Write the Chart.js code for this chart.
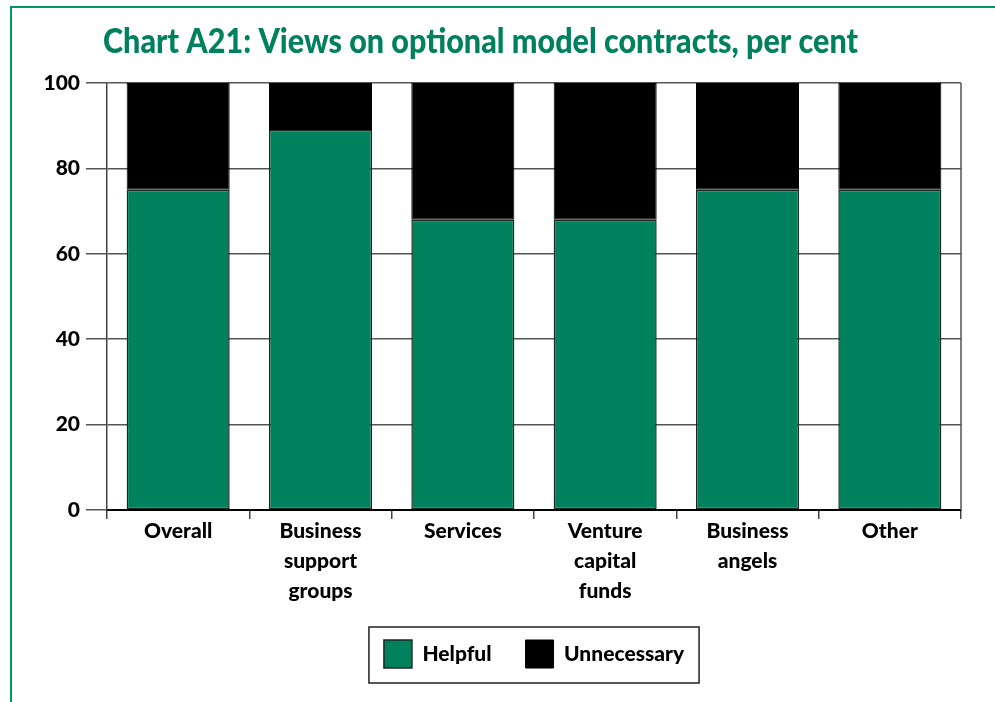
<!DOCTYPE html>
<html>
<head>
<meta charset="utf-8">
<script src="https://cdn.jsdelivr.net/npm/chart.js@4/dist/chart.umd.min.js"></script>
<style>
  html, body { margin: 0; padding: 0; background: #fff; }
  #wrap { width: 995px; height: 702px; }
</style>
</head>
<body>
<div id="wrap"><canvas id="viewsChart" width="995" height="702"></canvas></div>
<script>
const categories = [
  "Overall",
  ["Business", "support", "groups"],
  "Services",
  ["Venture", "capital", "funds"],
  ["Business", "angels"],
  "Other"
];
const helpful = [75, 89, 68, 68, 75, 75];
const unnecessary = [25, 11, 32, 32, 25, 25];
const yTicks = [0, 20, 40, 60, 80, 100];

const GREEN = "#00815d";
const FRAME = "#00956b";
const TITLE = "Chart A21: Views on optional model contracts, per cent";

// outer frame, title, right border of the plot and a box round the legend
const decorations = {
  id: "decorations",
  afterDraw(chart) {
    const ctx = chart.ctx;
    const area = chart.chartArea;
    ctx.save();

    ctx.strokeStyle = FRAME;
    ctx.lineWidth = 2;
    ctx.beginPath();
    ctx.moveTo(11, 702);
    ctx.lineTo(11, 7);
    ctx.lineTo(995, 7);
    ctx.stroke();

    ctx.font = "900 34px Lato";
    ctx.fillStyle = GREEN;
    ctx.textBaseline = "alphabetic";
    const w = ctx.measureText(TITLE).width;
    ctx.translate(103, 53);
    ctx.scale(755 / w, 1);
    ctx.fillText(TITLE, 0, 0);
    ctx.setTransform(1, 0, 0, 1, 0, 0);

    ctx.strokeStyle = "#555";
    ctx.lineWidth = 1.5;
    ctx.beginPath();
    ctx.moveTo(area.right, area.top);
    ctx.lineTo(area.right, area.bottom);
    ctx.stroke();

    const boxes = chart.legend.legendHitBoxes;
    if (boxes.length) {
      const first = boxes[0], last = boxes[boxes.length - 1];
      const x0 = first.left - 15;
      const x1 = last.left + last.width + 15;
      const y0 = first.top - 13;
      const y1 = first.top + first.height + 15;
      ctx.strokeStyle = "#222";
      ctx.lineWidth = 1.5;
      ctx.strokeRect(x0, y0, x1 - x0, y1 - y0);
    }
    ctx.restore();
  }
};

new Chart(document.getElementById("viewsChart").getContext("2d"), {
  type: "bar",
  data: {
    labels: categories,
    datasets: [
      {
        label: "Helpful",
        data: helpful,
        backgroundColor: GREEN,
        borderColor: "#1a2a22",
        borderWidth: 1.5,
        borderSkipped: false,
      },
      {
        label: "Unnecessary",
        data: unnecessary,
        backgroundColor: "#000",
        borderColor: "#000",
        borderWidth: 1,
        borderSkipped: false,
      },
    ],
  },
  options: {
    responsive: false,
    animation: false,
    layout: { padding: { top: 83, left: 0, right: 34, bottom: 24 } },
    datasets: {
      bar: { barPercentage: 0.724, categoryPercentage: 1 },
    },
    scales: {
      x: {
        stacked: true,
        afterFit: (scale) => { scale.height = 96; },
        grid: {
          drawOnChartArea: false,
          tickLength: 9,
          lineWidth: 1.5,
          color: (c) => (c.index === categories.length ? "rgba(0,0,0,0)" : "#444"),
        },
        border: { display: true, color: "#000", width: 2 },
        ticks: {
          color: "#000",
          padding: -3,
          maxRotation: 0,
          font: { family: "Lato", weight: "900", size: 21, lineHeight: 1.43 },
        },
      },
      y: {
        stacked: true,
        min: 0,
        max: 100,
        afterFit: (scale) => { scale.width = 107; },
        afterBuildTicks: (scale) => {
          scale.ticks = yTicks.map((v) => ({ value: v }));
        },
        grid: { color: "#555", lineWidth: 1.5, tickLength: 21 },
        border: { display: true, color: "#444", width: 1.5 },
        ticks: {
          color: "#000",
          padding: 6,
          font: { family: "Lato", weight: "900", size: 21 },
        },
      },
    },
    plugins: {
      tooltip: { enabled: false },
      title: { display: false },
      legend: {
        position: "bottom",
        fullSize: false,
        labels: {
          boxWidth: 28,
          boxHeight: 28,
          padding: 34,
          color: "#000",
          font: { family: "Lato", weight: "900", size: 21 },
        },
      },
    },
  },
  plugins: [decorations],
});
</script>
</body>
</html>
